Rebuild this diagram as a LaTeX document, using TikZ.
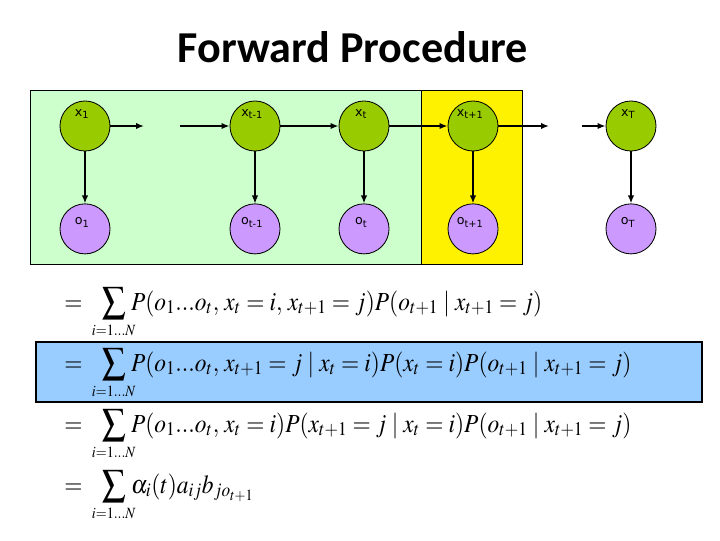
\documentclass[tikz,border=0pt]{standalone}
\usepackage{amsmath}
\usepackage{mathtools}
\usepackage{mathptmx}
\usepackage[no-math]{fontspec}
\usepackage{graphicx}
\usepackage{xcolor}
\usepackage{tikz}
\usetikzlibrary{arrows.meta, positioning}

\newfontfamily\titlefont{Carlito}
\newfontfamily\nodefont{DejaVu Sans}

\definecolor{hidgreen}{HTML}{99CC00}
\definecolor{obspurple}{HTML}{CC99FF}
\definecolor{bggreen}{HTML}{CCFFCC}
\definecolor{bgblue}{HTML}{99CCFF}

\newcommand{\sumN}{\mathop{\displaystyle\sum}\limits_{\mathclap{\scriptscriptstyle i=1...N}}}
\newcommand{\eqline}[1]{\scalebox{0.9}[1]{$=\ \ \sumN\, #1$}}

\begin{document}
\begin{tikzpicture}[
    x=0.025cm, y=-0.025cm,
    hid/.style={
        circle,
        draw=black,
        line width=0.6pt,
        fill=hidgreen,
        minimum size=1.25cm,
        inner sep=0pt,
        label={[font=\nodefont\fontsize{9}{10}\selectfont, xshift=-2pt, yshift=8.5pt]center:#1}
    },
    obs/.style={
        circle,
        draw=black,
        line width=0.6pt,
        fill=obspurple,
        minimum size=1.25cm,
        inner sep=0pt,
        label={[font=\nodefont\fontsize{9}{10}\selectfont, xshift=-2pt, yshift=4.5pt]center:#1}
    },
    line/.style={
        draw,
        -{Latex[length=2mm, width=1.6mm]},
        line width=1.2pt
    },
    eqn/.style={
        anchor=base west,
        inner sep=0pt,
        font=\fontsize{18.5}{22}\selectfont
    }
]
\useasboundingbox (0,0) rectangle (720,540);

% Backgrounds
\draw [fill=bggreen, line width=0.6pt] (30,90) rectangle (421,264);
\draw [fill=yellow, line width=0.6pt] (421,90) rectangle (522,264);
\draw [fill=bgblue, line width=0.8pt] (36,342) rectangle (702,402);

% Title
\node [anchor=base, font=\titlefont\bfseries\fontsize{31.4}{36}\selectfont] (title) at (353,62) {Forward Procedure};

% Nodes
\node [hid={x\textsubscript{1}}] (x1) at (85,126) {};
\node [hid={x\textsubscript{t-1}}] (xtm) at (255,126) {};
\node [hid={x\textsubscript{t}}] (xt) at (364,126) {};
\node [hid={x\textsubscript{t+1}}] (xtp) at (473,126) {};
\node [hid={x\textsubscript{T}}] (xT) at (631,126) {};

\node [obs={o\textsubscript{1}}, below=1.3cm of x1] (o1) {};
\node [obs={o\textsubscript{t-1}}, below=1.3cm of xtm] (otm) {};
\node [obs={o\textsubscript{t}}, below=1.3cm of xt] (ot) {};
\node [obs={o\textsubscript{t+1}}, below=1.3cm of xtp] (otp) {};
\node [obs={o\textsubscript{T}}, below=1.3cm of xT] (oT) {};

\coordinate (gapa) at (144,126);
\coordinate (gapb) at (180,126);
\coordinate (gapc) at (549,126);
\coordinate (gapd) at (582,126);

% Equations
\node [eqn] (eqa) at (64,310) {\eqline{P(o_1...o_t,\, x_t=i,\, x_{t+1}=j)P(o_{t+1}\mid x_{t+1}=j)}};
\node [eqn] (eqb) at (64,371) {\eqline{P(o_1...o_t,\, x_{t+1}=j\mid x_t=i)P(x_t=i)P(o_{t+1}\mid x_{t+1}=j)}};
\node [eqn] (eqc) at (64,432) {\eqline{P(o_1...o_t,\, x_t=i)P(x_{t+1}=j\mid x_t=i)P(o_{t+1}\mid x_{t+1}=j)}};
\node [eqn] (eqd) at (64,493) {\eqline{\alpha_i(t)a_{ij}b_{jo_{t+1}}}};

% Edges
\path [line] (x1) -- (gapa);
\path [line] (gapb) -- (xtm);
\path [line] (xtm) -- (xt);
\path [line] (xt) -- (xtp);
\path [line] (xtp) -- (gapc);
\path [line] (gapd) -- (xT);
\path [line] (x1) -- (o1);
\path [line, line width=0.8pt] (xtm) -- (otm);
\path [line] (xt) -- (ot);
\path [line] (xtp) -- (otp);
\path [line] (xT) -- (oT);

\end{tikzpicture}
\end{document}
